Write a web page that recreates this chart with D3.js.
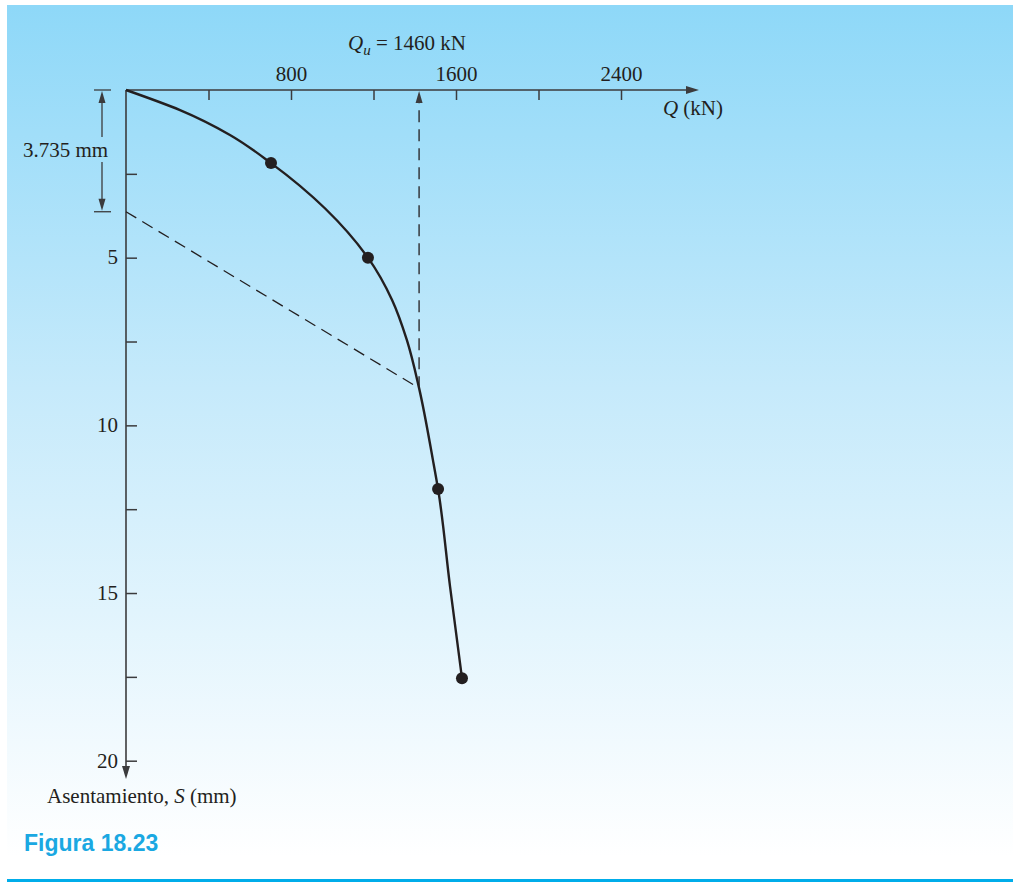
<!DOCTYPE html>
<html>
<head>
<meta charset="utf-8">
<script src="https://cdn.jsdelivr.net/npm/d3@7"></script>
<style>
  html, body { margin: 0; padding: 0; background: #ffffff; }
  svg { display: block; }
</style>
</head>
<body>
<svg id="chart" width="1013" height="882"></svg>
<script>
// ---- data ----
const xTickValues = [400, 800, 1200, 1600, 2000, 2400];
const xTickLabels = ["", "800", "", "1600", "", "2400"];
const yTickValues = [2.5, 5, 7.5, 10, 12.5, 15, 17.5, 20];
const yTickLabels = ["", "5", "", "10", "", "15", "", "20"];
// measured load test points (Q in kN, S in mm)
const testLoad = [703, 1173, 1513, 1629];
const testSettle = [2.18, 5.0, 11.9, 17.54];
// smooth load-settlement curve
const curveLoad = [0, 262, 504, 703, 1173, 1290, 1362, 1421, 1488, 1513, 1571, 1629];
const curveSettle = [0, 0.6, 1.34, 2.18, 5.0, 6.26, 7.46, 8.89, 11.03, 11.9, 14.8, 17.54];
// offset (dashed) line and ultimate load marker
const offsetLoad = [0, 1421];
const offsetSettle = [3.63, 8.89];
const quLoad = 1421;
const quSettle = 8.89;
const offsetDim = 3.63;
const quLabel = "1460 kN";
const dimLabel = "3.735 mm";
const xTitle = "(kN)";
const yTitle = "Asentamiento, ";
const figTitle = "Figura 18.23";

// ---- layout ----
const svg = d3.select("#chart");
const serif = "'Liberation Serif', 'Times New Roman', Times, serif";
const ink = "#231f20";
const axisInk = "#3b3b3d";

const x = d3.scaleLinear().domain([0, 2400]).range([126, 126 + 2400 * 0.20625]);
const y = d3.scaleLinear().domain([0, 20]).range([90, 760.7]);

// background
const defs = svg.append("defs");
const grad = defs.append("linearGradient").attr("id", "bg")
  .attr("x1", 0).attr("y1", 0).attr("x2", 0).attr("y2", 1);
grad.append("stop").attr("offset", "0%").attr("stop-color", "#8ed8f8");
grad.append("stop").attr("offset", "45%").attr("stop-color", "#c6eafb");
grad.append("stop").attr("offset", "100%").attr("stop-color", "#ffffff");
svg.append("rect").attr("x", 7).attr("y", 5).attr("width", 1006).attr("height", 852).attr("fill", "url(#bg)");
svg.append("rect").attr("x", 7).attr("y", 879).attr("width", 1006).attr("height", 3).attr("fill", "#00adea");

function arrowHead(px, py, dir, len, half) {
  let pts;
  if (dir === "up") pts = [[px, py], [px - half, py + len], [px + half, py + len]];
  else if (dir === "down") pts = [[px, py], [px - half, py - len], [px + half, py - len]];
  else pts = [[px, py], [px - len, py - half], [px - len, py + half]];
  svg.append("path").attr("d", "M" + pts.map(p => p.join(",")).join("L") + "Z").attr("fill", axisInk);
}

// x axis (ticks down, labels above)
const xAxis = d3.axisTop(x).tickValues(xTickValues)
  .tickFormat((d, i) => xTickLabels[i]).tickSize(-10).tickSizeOuter(0).tickPadding(9);
const gx = svg.append("g").attr("transform", "translate(0,90)").call(xAxis);
gx.select(".domain").remove();
gx.selectAll(".tick line").attr("stroke", axisInk).attr("stroke-width", 1.5);
gx.selectAll(".tick text").attr("font-family", serif).attr("font-size", 21).attr("fill", ink);
svg.append("line").attr("x1", x(0)).attr("y1", 90).attr("x2", 690).attr("y2", 90)
  .attr("stroke", axisInk).attr("stroke-width", 1.6);
arrowHead(699, 90, "right", 13, 4);

// y axis (ticks right, labels left)
const yAxis = d3.axisLeft(y).tickValues(yTickValues)
  .tickFormat((d, i) => yTickLabels[i]).tickSize(-11).tickSizeOuter(0).tickPadding(8);
const gy = svg.append("g").attr("transform", "translate(126,0)").call(yAxis);
gy.select(".domain").remove();
gy.selectAll(".tick line").attr("stroke", axisInk).attr("stroke-width", 1.5);
gy.selectAll(".tick text").attr("font-family", serif).attr("font-size", 21).attr("fill", ink)
  .attr("dy", "0.3em");
svg.append("line").attr("x1", 126).attr("y1", y(0)).attr("x2", 126).attr("y2", 770)
  .attr("stroke", axisInk).attr("stroke-width", 1.6);
arrowHead(126, 779, "down", 13, 4);

// axis titles
const xt = svg.append("text").attr("x", 723).attr("y", 115).attr("text-anchor", "end")
  .attr("font-family", serif).attr("font-size", 21).attr("fill", ink);
xt.append("tspan").attr("font-style", "italic").text("Q");
xt.append("tspan").text(" " + xTitle);

const yt = svg.append("text").attr("x", 47).attr("y", 803)
  .attr("font-family", serif).attr("font-size", 21).attr("fill", ink);
yt.append("tspan").text(yTitle);
yt.append("tspan").attr("font-style", "italic").text("S");
yt.append("tspan").text(" (mm)");

// Qu label
const qt = svg.append("text").attr("x", 348).attr("y", 50)
  .attr("font-family", serif).attr("font-size", 21).attr("fill", ink);
qt.append("tspan").attr("font-style", "italic").text("Q");
qt.append("tspan").attr("font-style", "italic").attr("font-size", 15).attr("dy", 5).text("u");
qt.append("tspan").attr("dy", -5).text(" = " + quLabel);

// dimension annotation
const dimX = 102;
svg.append("line").attr("x1", 94).attr("x2", 111).attr("y1", y(0)).attr("y2", y(0))
  .attr("stroke", axisInk).attr("stroke-width", 1.3);
svg.append("line").attr("x1", 94).attr("x2", 111).attr("y1", y(offsetDim)).attr("y2", y(offsetDim))
  .attr("stroke", axisInk).attr("stroke-width", 1.3);
svg.append("line").attr("x1", dimX).attr("x2", dimX).attr("y1", y(0) + 10).attr("y2", 137)
  .attr("stroke", axisInk).attr("stroke-width", 1.3);
svg.append("line").attr("x1", dimX).attr("x2", dimX).attr("y1", 162).attr("y2", y(offsetDim) - 10)
  .attr("stroke", axisInk).attr("stroke-width", 1.3);
arrowHead(dimX, y(0) + 1, "up", 12, 3.5);
arrowHead(dimX, y(offsetDim) - 1, "down", 12, 3.5);
svg.append("text").attr("x", 23).attr("y", 157)
  .attr("font-family", serif).attr("font-size", 21).attr("fill", ink).text(dimLabel);

// dashed offset line
const offsetData = offsetLoad.map((q, i) => [q, offsetSettle[i]]);
svg.append("path").datum(offsetData)
  .attr("d", d3.line().x(d => x(d[0])).y(d => y(d[1])))
  .attr("fill", "none").attr("stroke", ink).attr("stroke-width", 1.3).attr("stroke-dasharray", "12,7");

// dashed Qu line with arrow
svg.append("line").attr("x1", x(quLoad)).attr("x2", x(quLoad)).attr("y1", y(quSettle)).attr("y2", y(0) + 12)
  .attr("stroke", ink).attr("stroke-width", 1.3).attr("stroke-dasharray", "12,7");
arrowHead(x(quLoad), y(0) + 1, "up", 12, 3.5);

// load-settlement curve
const curveData = curveLoad.map((q, i) => [q, curveSettle[i]]);
svg.append("path").datum(curveData)
  .attr("d", d3.line().x(d => x(d[0])).y(d => y(d[1])).curve(d3.curveMonotoneY))
  .attr("fill", "none").attr("stroke", ink).attr("stroke-width", 2.4);

// test points
svg.selectAll("circle.pt").data(testLoad.map((q, i) => [q, testSettle[i]])).enter()
  .append("circle").attr("class", "pt")
  .attr("cx", d => x(d[0])).attr("cy", d => y(d[1])).attr("r", 6).attr("fill", ink);

// figure caption
svg.append("text").attr("x", 24).attr("y", 851)
  .attr("font-family", "'Liberation Sans', Arial, Helvetica, sans-serif").attr("font-weight", "bold")
  .attr("font-size", 23).attr("fill", "#1aa8e2").text(figTitle);
</script>
</body>
</html>
